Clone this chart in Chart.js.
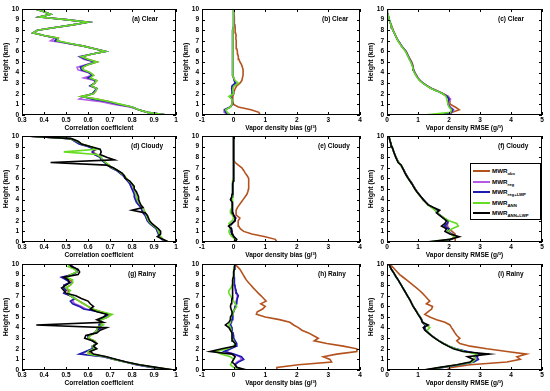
<!DOCTYPE html>
<html><head><meta charset="utf-8">
<script src="https://cdn.jsdelivr.net/npm/chart.js@4.4.1/dist/chart.umd.min.js"></script>
<style>
html,body{margin:0;padding:0;background:#fff;width:550px;height:391px;overflow:hidden;}
body{position:relative;}
canvas{position:absolute;}
#legend{position:absolute;left:470px;top:163px;width:71px;height:57px;border:1px solid #000;background:#fff;box-sizing:border-box;font:bold 6.2px Arial,'Liberation Sans',sans-serif;color:#000;z-index:5;}
#legend .row{position:absolute;left:0;height:10px;width:70px;}
#legend .sw{position:absolute;left:2px;top:4px;width:17px;height:2px;}
#legend .tx{position:absolute;left:21px;top:0px;line-height:9px;white-space:nowrap;}
#legend sub{font-size:4.3px;vertical-align:baseline;position:relative;top:2px;}
</style></head><body>
<div id="legend"></div>
<script>
// heights (km)
const heights = [0,0.25,0.5,0.75,1,1.25,1.5,1.75,2,2.25,2.5,2.75,3,3.25,3.5,3.75,4,4.25,4.5,4.75,5,5.25,5.5,5.75,6,6.25,6.5,6.75,7,7.25,7.5,7.75,8,8.25,8.5,8.75,9,9.25,9.5,9.75,10];
const seriesNames = ['obs','reg','reg+LWP','ANN','ANN+LWP'];

// (a) Clear – correlation
const a_obs  = [0.96,0.87,0.83,0.80,0.74,0.70,0.64,0.57,0.625,0.635,0.64,0.615,0.63,0.64,0.60,0.625,0.61,0.58,0.575,0.60,0.64,0.60,0.57,0.62,0.68,0.63,0.58,0.51,0.46,0.465,0.40,0.35,0.37,0.45,0.53,0.60,0.50,0.38,0.43,0.40,0.36];
const a_reg  = [0.96,0.87,0.83,0.79,0.72,0.66,0.56,0.58,0.62,0.63,0.64,0.61,0.63,0.63,0.58,0.62,0.60,0.555,0.55,0.59,0.63,0.58,0.56,0.62,0.68,0.63,0.58,0.51,0.43,0.45,0.40,0.35,0.37,0.45,0.53,0.60,0.50,0.38,0.43,0.40,0.36];
const a_regL = [0.96,0.87,0.83,0.80,0.74,0.69,0.62,0.575,0.62,0.63,0.64,0.61,0.63,0.635,0.60,0.62,0.605,0.57,0.565,0.595,0.635,0.59,0.565,0.62,0.68,0.63,0.58,0.515,0.45,0.46,0.40,0.35,0.37,0.45,0.53,0.60,0.50,0.38,0.43,0.40,0.36];
const a_ann  = [0.96,0.87,0.83,0.80,0.75,0.70,0.64,0.57,0.625,0.635,0.64,0.615,0.63,0.64,0.61,0.625,0.61,0.58,0.575,0.60,0.64,0.60,0.57,0.62,0.68,0.63,0.58,0.52,0.46,0.465,0.40,0.35,0.37,0.45,0.53,0.60,0.50,0.38,0.43,0.40,0.36];

// (b) Clear – bias
const b_obs  = [0.84,0.80,0.55,0.15,0.0,-0.02,-0.03,-0.02,0.0,0.02,0.05,0.1,0.2,0.26,0.28,0.3,0.3,0.3,0.28,0.25,0.2,0.17,0.15,0.13,0.12,0.1,0.09,0.08,0.08,0.07,0.08,0.06,0.05,0.05,0.04,0.03,0.02,0.02,0.01,0.01,0.0];
const b_reg  = [-0.15,-0.3,-0.3,-0.12,-0.05,-0.04,-0.05,-0.12,0.0,-0.02,-0.03,0.0,0.1,0.03,0.0,-0.02,-0.02,-0.03,-0.03,-0.03,-0.03,-0.04,-0.05,-0.05,-0.05,-0.04,-0.04,-0.03,-0.03,-0.02,-0.02,-0.02,-0.02,-0.01,-0.01,0.0,0.0,0.0,0.0,0.0,0.0];
const b_regL = [-0.12,-0.25,-0.28,-0.1,-0.04,-0.04,-0.05,-0.1,-0.02,-0.05,-0.06,-0.05,0.05,0.02,0.0,-0.02,-0.02,-0.03,-0.03,-0.03,-0.03,-0.04,-0.04,-0.04,-0.04,-0.04,-0.03,-0.03,-0.03,-0.02,-0.02,-0.02,-0.02,-0.01,-0.01,0.0,0.0,0.0,0.0,0.0,0.0];
const b_ann  = [-0.1,-0.2,-0.25,-0.1,-0.05,-0.05,-0.05,-0.15,0.0,-0.02,-0.02,0.02,0.15,0.05,0.0,-0.02,-0.02,-0.03,-0.03,-0.03,-0.03,-0.04,-0.05,-0.05,-0.05,-0.04,-0.04,-0.03,-0.03,-0.02,-0.02,-0.02,-0.02,-0.01,-0.01,0.0,0.0,0.0,0.0,0.0,0.0];

// (c) Clear – RMSE
const c_obs  = [2.0,2.1,2.33,2.2,2.05,2.0,2.03,1.98,1.82,1.65,1.45,1.3,1.17,1.07,1.0,0.95,0.9,0.87,0.85,0.83,0.8,0.75,0.7,0.66,0.62,0.55,0.47,0.42,0.36,0.32,0.28,0.24,0.2,0.17,0.14,0.1,0.07,0.05,0.03,0.02,0.0];
const c_reg  = [1.9,2.1,2.15,2.05,2.0,1.98,2.05,1.95,1.8,1.63,1.43,1.29,1.16,1.06,0.99,0.94,0.89,0.86,0.84,0.81,0.78,0.73,0.69,0.65,0.61,0.54,0.47,0.42,0.36,0.31,0.27,0.23,0.19,0.16,0.13,0.1,0.07,0.05,0.03,0.02,0.0];
const c_regL = [1.7,2.08,2.12,2.02,1.98,1.97,2.0,1.93,1.8,1.63,1.43,1.29,1.16,1.06,0.99,0.94,0.89,0.86,0.84,0.81,0.78,0.73,0.69,0.65,0.61,0.54,0.47,0.42,0.36,0.31,0.27,0.23,0.19,0.16,0.13,0.1,0.07,0.05,0.03,0.02,0.0];
const c_ann  = [1.2,2.05,2.08,2.0,1.97,1.95,1.93,1.9,1.8,1.62,1.42,1.28,1.15,1.05,0.98,0.93,0.88,0.85,0.83,0.8,0.77,0.72,0.68,0.64,0.6,0.53,0.46,0.41,0.35,0.31,0.27,0.23,0.19,0.16,0.13,0.1,0.07,0.05,0.03,0.02,0.0];

// (d) Cloudy – correlation
const d_obs  = [0.965,0.94,0.93,0.925,0.92,0.915,0.90,0.885,0.875,0.87,0.865,0.86,0.855,0.85,0.84,0.83,0.825,0.82,0.82,0.815,0.81,0.805,0.80,0.785,0.775,0.765,0.75,0.735,0.71,0.695,0.68,0.665,0.66,0.64,0.62,0.64,0.61,0.57,0.55,0.52,0.32];
const d_reg  = [0.962,0.935,0.925,0.92,0.915,0.91,0.895,0.88,0.87,0.865,0.86,0.85,0.845,0.84,0.835,0.825,0.82,0.815,0.82,0.81,0.80,0.795,0.79,0.78,0.77,0.76,0.745,0.73,0.705,0.69,0.675,0.66,0.655,0.63,0.62,0.63,0.60,0.56,0.54,0.52,0.32];
const d_regL = [0.962,0.935,0.925,0.92,0.915,0.91,0.895,0.88,0.87,0.865,0.86,0.85,0.845,0.84,0.83,0.82,0.815,0.81,0.81,0.805,0.80,0.795,0.79,0.78,0.77,0.76,0.745,0.73,0.705,0.69,0.675,0.66,0.655,0.63,0.62,0.63,0.60,0.56,0.54,0.52,0.32];
const d_ann  = [0.965,0.94,0.93,0.925,0.92,0.915,0.90,0.885,0.875,0.87,0.865,0.86,0.855,0.85,0.84,0.83,0.825,0.82,0.82,0.815,0.81,0.805,0.80,0.785,0.775,0.765,0.75,0.735,0.71,0.695,0.68,0.665,0.66,0.64,0.49,0.64,0.61,0.57,0.55,0.52,0.32];
const d_annL = [0.966,0.94,0.915,0.93,0.93,0.92,0.905,0.89,0.88,0.875,0.87,0.86,0.80,0.85,0.84,0.835,0.83,0.83,0.825,0.82,0.81,0.81,0.80,0.79,0.77,0.765,0.755,0.735,0.715,0.685,0.43,0.72,0.685,0.655,0.66,0.655,0.61,0.57,0.555,0.525,0.32];

// (e) Cloudy – bias
const e_obs  = [1.37,1.32,1.0,0.58,0.32,0.21,0.16,0.15,0.14,0.2,0.1,0.08,0.08,0.12,0.18,0.24,0.3,0.36,0.42,0.45,0.47,0.48,0.48,0.48,0.47,0.43,0.37,0.32,0.26,0.15,0.05,0.0,0.0,0.0,0.0,0.0,0.0,0.0,0.0,0.0,0.0];
const e_reg  = [0.06,0.06,0.0,-0.06,-0.1,-0.08,-0.12,-0.06,0.02,0.08,0.0,-0.04,-0.05,-0.03,-0.03,-0.04,-0.07,-0.05,-0.04,-0.04,-0.03,-0.02,-0.02,-0.01,0.0,0.0,0.0,0.0,0.0,0.0,0.0,0.0,0.0,0.0,0.0,0.0,0.0,0.0,0.0,0.0,0.0];
const e_regL = [0.08,0.08,0.02,-0.05,-0.08,-0.06,-0.12,-0.04,0.03,0.06,0.01,-0.02,-0.04,-0.03,-0.03,-0.04,-0.08,-0.05,-0.04,-0.04,-0.03,-0.02,-0.02,-0.01,0.0,0.0,0.0,0.0,0.0,0.0,0.0,0.0,0.0,0.0,0.0,0.0,0.0,0.0,0.0,0.0,0.0];
const e_ann  = [0.0,0.05,-0.05,-0.12,-0.15,-0.12,-0.1,-0.15,-0.05,0.0,-0.03,-0.1,-0.1,-0.05,-0.03,-0.03,-0.05,-0.05,-0.04,-0.04,-0.03,-0.03,-0.02,-0.02,-0.01,-0.01,0.0,0.0,0.0,0.0,0.0,0.0,0.0,0.0,0.0,0.0,0.0,0.0,0.0,0.0,0.0];
const e_annL = [0.05,0.1,0.0,-0.03,-0.05,-0.08,-0.16,-0.05,0.05,0.05,0.0,-0.03,-0.05,-0.04,-0.03,-0.05,-0.1,-0.06,-0.05,-0.04,-0.03,-0.02,-0.02,-0.01,0.0,0.0,0.0,0.0,0.0,0.0,0.0,0.0,0.0,0.0,0.0,0.0,0.0,0.0,0.0,0.0,0.0];

// (f) Cloudy – RMSE
const f_obs  = [2.2,2.2,2.15,2.2,2.1,2.0,1.95,1.95,1.95,1.85,1.72,1.63,1.55,1.45,1.33,1.25,1.17,1.1,1.03,0.97,0.91,0.86,0.81,0.75,0.69,0.64,0.59,0.55,0.5,0.45,0.38,0.33,0.29,0.25,0.22,0.19,0.16,0.13,0.1,0.08,0.06];
const f_reg  = [1.8,2.1,2.2,2.1,2.0,1.98,1.9,1.95,1.97,1.84,1.72,1.62,1.6,1.47,1.33,1.25,1.17,1.1,1.03,0.97,0.91,0.86,0.81,0.75,0.69,0.64,0.59,0.55,0.5,0.45,0.38,0.33,0.29,0.25,0.22,0.19,0.16,0.13,0.1,0.08,0.06];
const f_regL = [1.5,2.05,2.25,2.08,1.95,2.0,1.85,1.95,1.98,1.83,1.72,1.6,1.65,1.48,1.33,1.25,1.17,1.1,1.03,0.97,0.91,0.86,0.81,0.75,0.69,0.64,0.59,0.55,0.5,0.45,0.37,0.33,0.29,0.25,0.22,0.19,0.16,0.13,0.1,0.08,0.06];
const f_ann  = [1.3,2.05,2.2,2.05,1.95,2.1,2.3,2.25,2.0,1.85,1.72,1.63,1.55,1.45,1.32,1.24,1.16,1.09,1.02,0.96,0.9,0.85,0.8,0.74,0.68,0.63,0.58,0.54,0.5,0.44,0.38,0.33,0.29,0.25,0.22,0.19,0.16,0.13,0.1,0.08,0.06];
const f_annL = [1.27,2.03,2.33,2.03,1.87,1.92,1.76,1.87,1.92,1.81,1.7,1.6,1.7,1.5,1.33,1.25,1.17,1.1,1.03,0.96,0.9,0.85,0.8,0.74,0.68,0.63,0.58,0.54,0.5,0.46,0.36,0.32,0.28,0.25,0.22,0.19,0.16,0.13,0.1,0.08,0.06];

// (g) Rainy – correlation
const g_obs  = [0.99,0.90,0.83,0.77,0.72,0.68,0.61,0.60,0.63,0.62,0.64,0.63,0.60,0.61,0.63,0.64,0.65,0.66,0.65,0.66,0.69,0.70,0.66,0.62,0.60,0.58,0.56,0.54,0.52,0.51,0.51,0.50,0.52,0.53,0.52,0.50,0.52,0.55,0.54,0.52,0.52];
const g_reg  = [0.98,0.89,0.82,0.77,0.72,0.67,0.57,0.59,0.62,0.62,0.64,0.62,0.60,0.60,0.63,0.64,0.66,0.65,0.66,0.66,0.68,0.69,0.65,0.59,0.57,0.54,0.53,0.54,0.52,0.49,0.50,0.49,0.49,0.52,0.51,0.48,0.53,0.55,0.55,0.53,0.52];
const g_regL = [0.98,0.89,0.82,0.77,0.72,0.67,0.56,0.59,0.62,0.62,0.64,0.62,0.60,0.60,0.63,0.64,0.66,0.65,0.66,0.65,0.68,0.69,0.65,0.58,0.56,0.53,0.52,0.54,0.52,0.49,0.50,0.49,0.49,0.52,0.50,0.48,0.53,0.55,0.55,0.53,0.52];
const g_ann  = [0.99,0.90,0.83,0.77,0.72,0.68,0.60,0.60,0.63,0.62,0.64,0.63,0.60,0.61,0.63,0.64,0.64,0.67,0.65,0.66,0.69,0.71,0.66,0.62,0.60,0.58,0.56,0.54,0.52,0.51,0.52,0.50,0.52,0.53,0.53,0.50,0.52,0.55,0.54,0.51,0.52];
const g_annL = [0.99,0.91,0.835,0.775,0.73,0.685,0.625,0.61,0.64,0.625,0.64,0.62,0.585,0.59,0.64,0.655,0.685,0.365,0.67,0.64,0.67,0.685,0.64,0.61,0.625,0.61,0.60,0.57,0.545,0.50,0.49,0.48,0.50,0.515,0.51,0.49,0.555,0.562,0.555,0.525,0.515];

// (h) Rainy – bias
const h_obs  = [1.37,1.37,2.05,3.1,3.05,2.84,3.26,3.9,3.9,3.47,2.95,2.55,2.68,2.52,2.37,2.16,2.05,1.9,1.78,1.45,1.0,0.72,0.75,0.92,1.0,0.86,1.03,0.95,0.87,0.78,0.7,0.62,0.55,0.47,0.4,0.35,0.3,0.25,0.2,0.12,0.05];
const h_reg  = [0.25,0.08,0.03,0.1,0.25,0.2,0.0,-0.25,-0.1,0.06,0.08,0.04,0.0,-0.01,-0.03,-0.05,-0.06,-0.1,-0.08,-0.06,-0.03,-0.03,0.0,0.03,0.05,0.07,0.08,0.1,0.12,0.08,0.06,0.05,0.04,0.03,0.02,0.02,0.01,0.01,0.02,0.03,0.05];
const h_regL = [0.3,0.1,0.05,0.15,0.32,0.25,0.0,-0.3,-0.1,0.08,0.1,0.05,0.0,0.0,-0.02,-0.05,-0.05,-0.1,-0.08,-0.05,-0.02,-0.03,0.0,0.03,0.05,0.08,0.1,0.12,0.15,0.1,0.08,0.05,0.04,0.03,0.02,0.02,0.01,0.01,0.02,0.03,0.05];
const h_ann  = [0.2,0.0,-0.1,-0.05,0.0,-0.1,-0.4,-0.58,-0.2,0.0,0.05,0.0,-0.05,-0.05,-0.05,-0.08,-0.1,-0.15,-0.1,-0.1,-0.08,-0.05,-0.02,0.05,0.1,0.05,0.0,-0.05,-0.1,-0.15,-0.15,-0.08,-0.05,-0.03,-0.02,-0.01,0.0,0.0,0.01,0.02,0.05];
const h_annL = [0.42,0.1,0.05,-0.05,0.0,0.05,-0.05,-0.74,-0.37,0.05,0.05,-0.03,-0.05,-0.05,-0.05,-0.1,-0.15,-0.26,-0.15,-0.1,-0.1,-0.05,-0.05,-0.08,-0.1,-0.08,-0.06,-0.05,-0.05,-0.04,-0.03,-0.03,-0.03,-0.02,-0.02,-0.01,0.0,0.0,0.02,0.03,0.05];

// (i) Rainy – RMSE
const i_obs  = [1.92,2.08,2.68,3.87,4.3,4.19,4.5,3.87,3.22,2.68,2.35,2.25,2.35,2.25,2.19,2.14,2.08,2.03,1.87,1.6,1.38,1.22,1.33,1.44,1.47,1.27,1.38,1.3,1.22,1.14,1.05,0.95,0.84,0.74,0.63,0.52,0.41,0.33,0.25,0.17,0.09];
const i_reg  = [1.25,1.78,2.32,2.78,2.9,2.85,2.95,2.55,2.2,2.0,1.83,1.68,1.55,1.44,1.33,1.25,1.2,1.22,1.15,1.12,1.07,1.01,0.96,0.9,0.85,0.8,0.76,0.71,0.66,0.61,0.56,0.51,0.46,0.41,0.36,0.3,0.25,0.2,0.14,0.1,0.06];
const i_regL = [1.25,1.8,2.35,2.8,2.95,2.9,3.0,2.6,2.22,2.0,1.83,1.68,1.55,1.44,1.33,1.25,1.2,1.22,1.15,1.12,1.07,1.01,0.96,0.9,0.85,0.8,0.76,0.71,0.66,0.61,0.56,0.51,0.46,0.41,0.36,0.3,0.25,0.2,0.14,0.1,0.06];
const i_ann  = [1.2,1.75,2.3,2.75,2.85,2.8,2.9,2.5,2.2,2.0,1.83,1.68,1.55,1.44,1.33,1.3,1.38,1.25,1.15,1.11,1.07,1.01,0.96,0.9,0.85,0.8,0.76,0.71,0.66,0.61,0.56,0.51,0.46,0.41,0.36,0.3,0.25,0.2,0.14,0.1,0.06];
const i_annL = [1.17,1.71,2.25,2.68,2.79,2.6,3.3,2.45,2.14,1.97,1.81,1.67,1.54,1.43,1.33,1.22,1.17,1.33,1.14,1.11,1.06,1.0,0.95,0.9,0.84,0.8,0.76,0.71,0.66,0.61,0.56,0.51,0.46,0.41,0.36,0.3,0.25,0.2,0.14,0.1,0.06];

const COLORS = {obs:'#b4521e', reg:'#b45ae6', regL:'#1c1cb0', ann:'#66dd22', annL:'#000000'};
const ORDER = {obs:5, reg:4, regL:3, ann:2, annL:1};
const FONT = "Arial, 'Liberation Sans', sans-serif";

const xTitles = {
  corr: 'Correlation coefficient',
  bias: 'Vapor density bias (g/\u00B3)',
  rmse: 'Vapor density RMSE (g/\u00B3)'
};
const xRanges = {corr:[0.3,1,0.1], bias:[-1,4,1], rmse:[0,5,1]};

const cols = [{l:22,w:154},{l:202,w:158},{l:387,w:155}];
const rows = [{t:9,h:106},{t:136,h:106},{t:264,h:106}];

const panels = [
  {lab:'(a) Clear',  kind:'corr', r:0,c:0, off:110, s:{obs:a_obs,reg:a_reg,regL:a_regL,ann:a_ann}},
  {lab:'(b) Clear',  kind:'bias', r:0,c:1, off:120, s:{obs:b_obs,reg:b_reg,regL:b_regL,ann:b_ann}},
  {lab:'(c) Clear',  kind:'rmse', r:0,c:2, off:111, s:{obs:c_obs,reg:c_reg,regL:c_regL,ann:c_ann}},
  {lab:'(d) Cloudy', kind:'corr', r:1,c:0, off:109, s:{obs:d_obs,reg:d_reg,regL:d_regL,ann:d_ann,annL:d_annL}},
  {lab:'(e) Cloudy', kind:'bias', r:1,c:1, off:116, s:{obs:e_obs,reg:e_reg,regL:e_regL,ann:e_ann,annL:e_annL}},
  {lab:'(f) Cloudy', kind:'rmse', r:1,c:2, off:111, s:{obs:f_obs,reg:f_reg,regL:f_regL,ann:f_ann,annL:f_annL}},
  {lab:'(g) Rainy',  kind:'corr', r:2,c:0, off:106, s:{obs:g_obs,reg:g_reg,regL:g_regL,ann:g_ann,annL:g_annL}},
  {lab:'(h) Rainy',  kind:'bias', r:2,c:1, off:116, s:{obs:h_obs,reg:h_reg,regL:h_regL,ann:h_ann,annL:h_annL}},
  {lab:'(i) Rainy',  kind:'rmse', r:2,c:2, off:111, s:{obs:i_obs,reg:i_reg,regL:i_regL,ann:i_ann,annL:i_annL}}
];

const YW = 24, XH = 22, PT = 9, PR = 8;

const boxPlugin = {
  id:'boxTicks',
  afterDraw(chart, args, opts){
    const ctx = chart.ctx, a = chart.chartArea;
    const xs = chart.scales.x, ys = chart.scales.y;
    ctx.save();
    ctx.strokeStyle = '#000'; ctx.lineWidth = 1;
    ctx.strokeRect(a.left+0.5, a.top+0.5, a.right-a.left-1, a.bottom-a.top-1);
    ctx.beginPath();
    xs.ticks.forEach(t=>{
      const px = Math.round(xs.getPixelForValue(t.value))+0.5;
      ctx.moveTo(px, a.bottom); ctx.lineTo(px, a.bottom-3);
      ctx.moveTo(px, a.top); ctx.lineTo(px, a.top+3);
    });
    ys.ticks.forEach(t=>{
      const py = Math.round(ys.getPixelForValue(t.value))+0.5;
      ctx.moveTo(a.left, py); ctx.lineTo(a.left+3, py);
      ctx.moveTo(a.right, py); ctx.lineTo(a.right-3, py);
    });
    ctx.stroke();
    ctx.font = 'bold 6.5px ' + FONT;
    ctx.fillStyle = '#000';
    ctx.textBaseline = 'middle';
    ctx.textAlign = 'left';
    ctx.fillText(opts.text, a.left + opts.off, a.top + 10.5);
    ctx.restore();
  }
};

panels.forEach((p, idx)=>{
  const col = cols[p.c], row = rows[p.r];
  const cv = document.createElement('canvas');
  const W = col.w + YW + PR, Hh = row.h + PT + XH;
  cv.width = W; cv.height = Hh;
  cv.style.left = (col.l - YW) + 'px';
  cv.style.top = (row.t - PT) + 'px';
  cv.style.width = W + 'px'; cv.style.height = Hh + 'px';
  document.body.appendChild(cv);
  const xr = xRanges[p.kind];
  const datasets = Object.keys(p.s).map(k=>({
    label: k,
    data: heights.map((h,i)=>({x:p.s[k][i], y:h})),
    borderColor: COLORS[k],
    backgroundColor: COLORS[k],
    borderWidth: 1.6,
    pointRadius: 0,
    showLine: true,
    fill: false,
    tension: 0,
    order: ORDER[k]
  }));
  new Chart(cv, {
    type:'scatter',
    data:{datasets},
    plugins:[boxPlugin],
    options:{
      responsive:false, animation:false, devicePixelRatio:1,
      layout:{padding:{left:0, top:PT, right:PR, bottom:0}},
      plugins:{legend:{display:false}, tooltip:{enabled:false}, boxTicks:{text:p.lab, off:p.off}},
      scales:{
        x:{type:'linear', min:xr[0], max:xr[1],
           afterFit(s){ s.height = XH; },
           grid:{display:false, drawTicks:false, tickLength:0}, border:{display:false},
           ticks:{stepSize:xr[2], autoSkip:false, maxRotation:0, padding:1, color:'#000',
                  font:{family:FONT, size:6.5, weight:'bold'},
                  callback:v=> String(Math.round(v*10)/10)},
           title:{display:true, text:xTitles[p.kind], color:'#000',
                  font:{family:FONT, size:6.5, weight:'bold'}, padding:{top:0,bottom:5}}},
        y:{type:'linear', min:0, max:10,
           afterFit(s){ s.width = YW; },
           grid:{display:false, drawTicks:false, tickLength:0}, border:{display:false},
           ticks:{stepSize:1, autoSkip:false, padding:3, color:'#000',
                  font:{family:FONT, size:6.5, weight:'bold'}},
           title:{display:true, text:'Height (km)', color:'#000',
                  font:{family:FONT, size:7, weight:'bold'}, padding:{top:4,bottom:0}}}
      }
    }
  });
});

// legend (HTML, for subscripts)
const legKeys = ['obs','reg','regL','ann','annL'];
const leg = document.getElementById('legend');
legKeys.forEach((k,i)=>{
  const row = document.createElement('div');
  row.className = 'row';
  row.style.top = (2 + i*10.6) + 'px';
  const sw = document.createElement('div');
  sw.className = 'sw'; sw.style.background = COLORS[k];
  const tx = document.createElement('div');
  tx.className = 'tx';
  tx.innerHTML = 'MWR<sub>' + seriesNames[i] + '</sub>';
  row.appendChild(sw); row.appendChild(tx);
  leg.appendChild(row);
});
</script>
</body></html>
